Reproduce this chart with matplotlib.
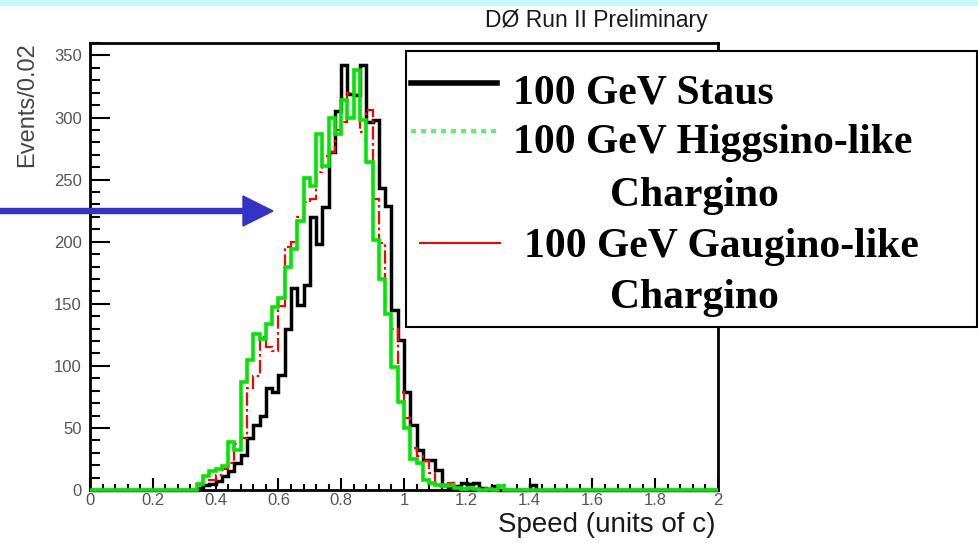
import numpy as np
import matplotlib
matplotlib.use('Agg')
import matplotlib.pyplot as plt
from matplotlib.patches import Rectangle, FancyArrow
from matplotlib.lines import Line2D
from matplotlib.ticker import MultipleLocator, FormatStrFormatter

plt.rcParams['font.family'] = ['Liberation Sans', 'DejaVu Sans']

# Histogram binning: 100 bins of 0.02 from 0 to 2, values start at bin 0.34
bin_edges = np.linspace(0, 2, 101)
first_bin = 17  # 0.34

staus = [2, 4, 5, 7, 11, 15, 22, 28, 42, 52, 60, 82, 79, 93, 130, 163, 149, 165,
         220, 198, 228, 272, 305, 342, 319, 318, 342, 296, 298, 243, 229, 145, 121,
         79, 52, 32, 24, 24, 16, 4, 2, 3, 6, 5, 6, 2, 1, 3, 0, 0, 0, 0, 0, 4]
higgsino = [5, 11, 15, 17, 19, 39, 32, 87, 105, 126, 122, 134, 147, 155, 180, 194,
            217, 251, 245, 287, 261, 300, 287, 314, 300, 338, 298, 264, 201, 170,
            142, 99, 71, 50, 25, 22, 8, 6, 4, 3, 4, 2, 1, 2, 1, 0, 1, 0, 3]
gaugino = [4, 11, 8, 12, 17, 22, 37, 42, 82, 92, 123, 115, 112, 148, 196, 200,
           220, 232, 234, 256, 269, 272, 290, 296, 320, 319, 288, 306, 234, 199,
           142, 130, 79, 58, 34, 27, 23, 14, 3, 4, 6, 2]

legend_lines = ['100 GeV Staus', '100 GeV Higgsino-like', 'Chargino',
                '100 GeV Gaugino-like', 'Chargino']


def full_hist(vals):
    h = np.zeros(100)
    h[first_bin:first_bin + len(vals)] = vals
    return h


W, H = 979, 543
fig = plt.figure(figsize=(W / 100, H / 100), dpi=100)
fig.patch.set_facecolor('white')


def fx(x):
    return x / W


def fy(y):
    return 1 - y / H


ax = fig.add_axes([fx(90), fy(490), (718 - 90) / W, (490 - 43) / H])

ax.stairs(full_hist(staus), bin_edges, baseline=None, color='black', lw=2.5,
          zorder=3, clip_on=False)
ax.stairs(full_hist(gaugino), bin_edges, baseline=None, color='#ff0000', lw=1.6,
          linestyle=(0, (6, 1.5, 1.2, 1.5)), zorder=4, clip_on=False)
ax.stairs(full_hist(higgsino), bin_edges, baseline=None, color='#00e600', lw=2.6,
          zorder=5, clip_on=False)

ax.set_xlim(0, 2)
ax.set_ylim(0, 360)
ax.xaxis.set_major_locator(MultipleLocator(0.2))
ax.xaxis.set_minor_locator(MultipleLocator(0.04))
ax.yaxis.set_major_locator(MultipleLocator(50))
ax.yaxis.set_minor_locator(MultipleLocator(10))
ax.xaxis.set_major_formatter(FormatStrFormatter('%g'))

ax.tick_params(axis='x', which='major', direction='in', length=8.5, width=1.5,
               top=False, labelsize=12, labelcolor='#555555', pad=2)
ax.tick_params(axis='x', which='minor', direction='in', length=4.3, width=1.5, top=False)
ax.tick_params(axis='y', which='major', direction='in', length=14.4, width=1.5,
               right=False, labelsize=12, labelcolor='#555555', pad=6)
ax.tick_params(axis='y', which='minor', direction='in', length=7.2, width=1.5, right=False)
for sp in ax.spines.values():
    sp.set_linewidth(2)

fig.text(fx(716), fy(525), 'Speed (units of c)', ha='right', va='center',
         fontsize=20, color='#1a1a1a')
fig.text(fx(27), fy(42), 'Events/0.02', rotation=90, ha='center', va='top',
         fontsize=17, color='#444444')
fig.text(fx(596), fy(21), 'D\u00d8 Run II Preliminary', ha='center', va='center',
         fontsize=16.5, color='#1a1a1a')

# top strip
fig.add_artist(Rectangle((0, fy(6)), 1, 6 / H, transform=fig.transFigure,
                         facecolor='#c8f8f8', edgecolor='none', zorder=0))

# blue arrow
fig.add_artist(FancyArrow(fx(0), fy(211), fx(273), 0, width=5 / H,
                          head_width=30 / H, head_length=fx(30),
                          length_includes_head=True, transform=fig.transFigure,
                          color='#3333c8', zorder=6))

# legend box
fig.add_artist(Rectangle((fx(406), fy(327)), (977 - 406) / W, (327 - 51) / H,
                         transform=fig.transFigure, facecolor='white',
                         edgecolor='black', lw=1.5, zorder=7))
fig.add_artist(Line2D([fx(411), fx(497)], [fy(83), fy(83)], transform=fig.transFigure,
                      color='black', lw=4, zorder=8))
fig.add_artist(Line2D([fx(411), fx(497)], [fy(131), fy(131)], transform=fig.transFigure,
                      color='#66ee66', lw=3, linestyle=(0, (1.2, 1.2)), zorder=8))
fig.add_artist(Line2D([fx(420), fx(500)], [fy(243), fy(243)], transform=fig.transFigure,
                      color='#ff0000', lw=1.5, zorder=8))

leg_font = dict(family=['Liberation Serif', 'DejaVu Serif'], fontsize=30,
                fontweight='bold', color='black', va='baseline', zorder=9)
fig.text(fx(513), fy(103), legend_lines[0], ha='left', **leg_font)
fig.text(fx(513), fy(153), legend_lines[1], ha='left', **leg_font)
fig.text(fx(694), fy(206), legend_lines[2], ha='center', **leg_font)
fig.text(fx(524), fy(257), legend_lines[3], ha='left', **leg_font)
fig.text(fx(694), fy(308), legend_lines[4], ha='center', **leg_font)

fig.savefig('out.png', dpi=100)
